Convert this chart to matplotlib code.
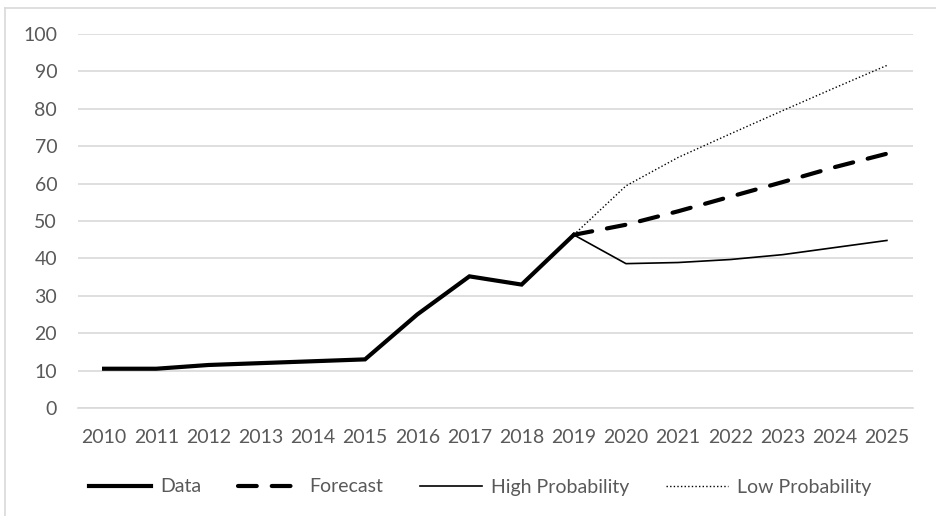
#!/usr/bin/env python3
"""Data vs forecast scenarios, 2010-2025."""

import matplotlib
matplotlib.use('Agg')
import matplotlib.pyplot as plt
from matplotlib.lines import Line2D

# ─── Dados ───────────────────────────────────────────────────────────────────

years = [str(y) for y in range(2010, 2026)]
data_years = years[:10]
proj_years = years[9:]

data_vals = [10.5, 10.5, 11.5, 12, 12.5, 13, 25, 35.2, 33, 46.3]
forecast_vals = [46.3, 49, 52.6, 56.5, 60.4, 64.4, 68]
high_vals = [46.3, 38.6, 38.9, 39.7, 41, 42.9, 44.8]
low_vals = [46.3, 59.4, 67, 73.3, 79.5, 85.6, 91.6]

TEXT = '#595959'
GRID = '#d9d9d9'

plt.rcParams.update({
    'font.family': ['Lato', 'DejaVu Sans'],
    'font.size': 14,
    'text.color': TEXT,
    'xtick.color': TEXT,
    'ytick.color': TEXT,
})

fig = plt.figure(figsize=(9.36, 5.16), dpi=100)
ax = fig.add_axes([78 / 936, 1 - 408 / 516, (913 - 78) / 936, (408 - 34) / 516])

x = list(range(len(years)))
ax.plot(x[9:], low_vals, color='black', linewidth=1.0, linestyle=(0, (1, 1.6)))
ax.plot(x[9:], high_vals, color='black', linewidth=1.2)
ax.plot(x[9:], forecast_vals, color='black', linewidth=3.0, linestyle=(0, (4.5, 3.6)),
        dash_capstyle='round')
ax.plot(x[:10], data_vals, color='black', linewidth=3.0, solid_joinstyle='miter')

ax.set_xlim(-0.5, len(years) - 0.5)
ax.set_ylim(0, 100)
ax.set_yticks(range(0, 101, 10))
ax.set_xticks(x)
ax.set_xticklabels(years)
ax.yaxis.grid(True, color=GRID, linewidth=1.2)
ax.set_axisbelow(True)
for s in ['top', 'right', 'left']:
    ax.spines[s].set_visible(False)
ax.spines['bottom'].set_color(GRID)
ax.spines['bottom'].set_linewidth(1.2)
ax.tick_params(length=0)
ax.tick_params(axis='x', pad=15)
ax.tick_params(axis='y', pad=15)

handles = [
    Line2D([], [], color='black', linewidth=3.0),
    Line2D([], [], color='black', linewidth=3.0, linestyle=(0, (4.5, 3.6)), dash_capstyle='round'),
    Line2D([], [], color='black', linewidth=1.2),
    Line2D([], [], color='black', linewidth=1.0, linestyle=(0, (1, 1.6))),
]
labels = ['Data', 'Forecast', 'High Probability', 'Low Probability']
fig.legend(handles, labels, loc='center', bbox_to_anchor=(0.513, 1 - 487 / 516), ncol=4,
           frameon=False, handlelength=3.2, handletextpad=0.45, columnspacing=1.9)

# moldura cinza
fig.add_artist(Line2D([5 / 936, 5 / 936], [0, 1 - 8 / 516], color=GRID, linewidth=1.2))
fig.add_artist(Line2D([5 / 936, 1], [1 - 8 / 516, 1 - 8 / 516], color=GRID, linewidth=1.2))

fig.savefig('out.png', dpi=100, facecolor='white')
